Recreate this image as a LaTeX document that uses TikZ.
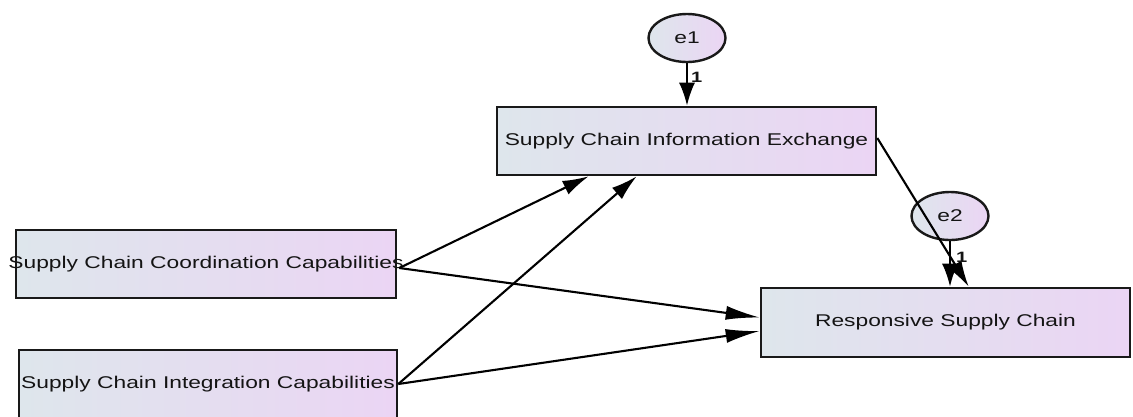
\documentclass[tikz,border=0pt]{standalone}
\usepackage{fontspec}
\setmainfont{Liberation Sans}
\usetikzlibrary{arrows.meta,calc,shapes.geometric}
\definecolor{boxleft}{RGB}{222,230,236}
\definecolor{boxright}{RGB}{235,213,244}
\definecolor{inktext}{RGB}{20,20,20}
\newcommand{\wide}[1]{\scalebox{1.34}[1]{#1}}
\tikzset{
  varbox/.style={rectangle, draw=black!90, line width=2.6pt,
    left color=boxleft, right color=boxright, inner sep=0pt,
    font=\fontsize{17}{20}\selectfont, text=inktext},
  errvar/.style={ellipse, draw=black!90, line width=2.4pt,
    left color=boxleft, right color=boxright, inner sep=0pt,
    minimum width=77pt, minimum height=48pt,
    font=\fontsize{17}{20}\selectfont, text=inktext},
  reg/.style={-{Latex[length=26pt,width=15pt]}, line width=2.1pt, draw=black},
  fixreg/.style={-{Latex[length=23pt,width=16pt]}, line width=2.1pt, draw=black},
  wt/.style={font=\fontsize{15}{17}\selectfont\bfseries, text=inktext, inner sep=1pt}
}
\begin{document}
\begin{tikzpicture}[x=1pt,y=-1pt]
\useasboundingbox (0,0) rectangle (1133,416);

% observed variables
\node[varbox, minimum width=380pt, minimum height=68pt] (sccc) at (206,264)
  {\makebox[0pt]{\wide{Supply Chain Coordination Capabilities}}};
\node[varbox, minimum width=378pt, minimum height=68pt] (scic) at (208,384)
  {\makebox[0pt]{\wide{Supply Chain Integration Capabilities}}};
\node[varbox, minimum width=379pt, minimum height=68pt] (scie) at (686.5,141)
  {\makebox[0pt]{\wide{Supply Chain Information Exchange}}};
\node[varbox, minimum width=369pt, minimum height=69pt] (rsc) at (945.5,322.5)
  {\makebox[0pt]{\wide{Responsive Supply Chain}}};

% error terms
\node[errvar] (e1) at (687,38) {\wide{e1}};
\node[errvar] (e2) at (950,216) {\wide{e2}};

% regression paths
\draw[reg] ($(sccc.east)+(2,4)$) -- ($(scie.south west)+(93,0)$);
\draw[reg] (scic.east) -- ($(scie.south west)+(141,0)$);
\draw[reg, -{Latex[length=34pt,width=14pt]}] ($(sccc.east)+(2,4)$) -- ($(rsc.west)+(0,-5)$);
\draw[reg, -{Latex[length=34pt,width=14pt]}] (scic.east) -- ($(rsc.west)+(0,8.5)$);
\draw[reg] ($(scie.east)+(0,-3)$) -- ($(rsc.north west)+(209,0)$);

% error paths with fixed weights
\draw[fixreg] (e1.south) -- node[wt, right, pos=0.33, xshift=2pt] {\wide{1}} (scie.north -| e1.south);
\draw[fixreg] (e2.south) -- node[wt, right, pos=0.35, xshift=4pt] {\wide{1}} (rsc.north -| e2.south);
\end{tikzpicture}
\end{document}
